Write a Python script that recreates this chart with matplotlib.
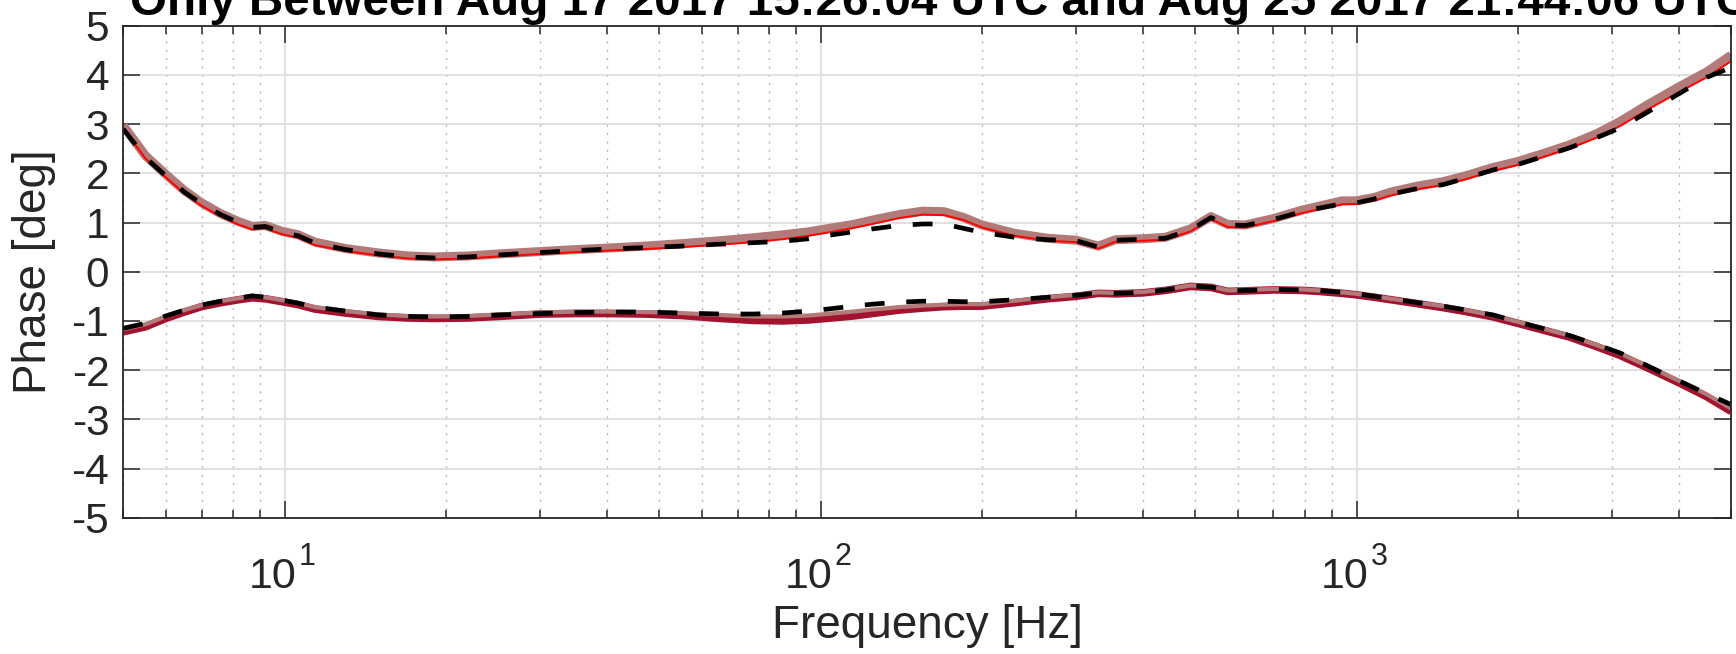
import numpy as np
import matplotlib
matplotlib.use('Agg')
import matplotlib.pyplot as plt
from matplotlib.ticker import LogLocator, FixedLocator, NullFormatter

plt.rcParams['font.family'] = ['Liberation Sans', 'DejaVu Sans']

#------------------------------------------------------------------------------
# Data

freq = [5, 5.5, 6, 6.5, 7, 7.6, 8.2, 8.7, 9.2, 9.9, 10.6, 11.4, 13, 15, 17, 19,
        22, 25, 30, 35, 40, 47, 55, 65, 75, 85, 95, 105, 115, 125, 140, 155,
        170, 185, 200, 230, 265, 300, 330, 355, 400, 440, 490, 535, 575, 620,
        700, 790, 850, 940, 1000, 1080, 1160, 1300, 1450, 1600, 1800, 2000,
        2200, 2500, 2800, 3100, 3500, 4000, 4500, 5000]

# upper branch
upper_meas = [2.97, 2.36, 1.98, 1.65, 1.40, 1.18, 1.02, 0.92, 0.94, 0.82, 0.75,
              0.60, 0.47, 0.38, 0.32, 0.30, 0.32, 0.36, 0.41, 0.45, 0.48, 0.52,
              0.57, 0.63, 0.69, 0.75, 0.81, 0.89, 0.96, 1.05, 1.16, 1.23, 1.22,
              1.10, 0.95, 0.78, 0.68, 0.64, 0.52, 0.65, 0.67, 0.70, 0.87, 1.12,
              0.96, 0.95, 1.08, 1.25, 1.33, 1.44, 1.44, 1.51, 1.62, 1.74, 1.83,
              1.95, 2.12, 2.24, 2.38, 2.58, 2.80, 3.05, 3.40, 3.76, 4.06, 4.40]
upper_model = [2.91, 2.30, 1.92, 1.59, 1.34, 1.12, 0.96, 0.86, 0.88, 0.76, 0.69,
               0.54, 0.42, 0.33, 0.27, 0.25, 0.27, 0.31, 0.36, 0.40, 0.43, 0.46,
               0.50, 0.55, 0.60, 0.66, 0.73, 0.81, 0.89, 0.97, 1.09, 1.16, 1.15,
               1.05, 0.90, 0.73, 0.63, 0.60, 0.47, 0.61, 0.63, 0.65, 0.82, 1.07,
               0.91, 0.90, 1.03, 1.19, 1.27, 1.37, 1.38, 1.45, 1.55, 1.68, 1.76,
               1.88, 2.05, 2.17, 2.31, 2.51, 2.72, 2.96, 3.30, 3.65, 3.95, 4.28]
upper_fit = [2.90, 2.32, 1.95, 1.62, 1.38, 1.16, 1.00, 0.90, 0.92, 0.80, 0.73,
             0.58, 0.45, 0.36, 0.30, 0.28, 0.30, 0.34, 0.39, 0.43, 0.46, 0.49,
             0.52, 0.56, 0.59, 0.62, 0.67, 0.75, 0.81, 0.87, 0.94, 0.97, 0.97,
             0.88, 0.80, 0.70, 0.65, 0.63, 0.50, 0.64, 0.66, 0.68, 0.85, 1.10,
             0.95, 0.94, 1.06, 1.22, 1.29, 1.38, 1.40, 1.48, 1.58, 1.69, 1.77,
             1.90, 2.07, 2.18, 2.32, 2.52, 2.72, 2.92, 3.25, 3.62, 3.95, 4.15]

# lower branch
lower_meas = [-1.22, -1.12, -0.95, -0.82, -0.71, -0.63, -0.57, -0.53, -0.55,
              -0.61, -0.67, -0.76, -0.84, -0.91, -0.94, -0.95, -0.94, -0.91,
              -0.86, -0.85, -0.85, -0.86, -0.89, -0.95, -0.99, -1.00, -0.98,
              -0.94, -0.90, -0.85, -0.78, -0.74, -0.71, -0.70, -0.70, -0.63,
              -0.55, -0.50, -0.44, -0.45, -0.43, -0.38, -0.30, -0.32, -0.40,
              -0.39, -0.37, -0.38, -0.40, -0.44, -0.47, -0.52, -0.57, -0.65,
              -0.73, -0.81, -0.92, -1.05, -1.17, -1.33, -1.52, -1.70, -1.96,
              -2.26, -2.54, -2.84]
lower_model = [-1.17, -1.07, -0.91, -0.78, -0.68, -0.60, -0.54, -0.49, -0.52,
               -0.58, -0.64, -0.72, -0.80, -0.87, -0.90, -0.91, -0.90, -0.87,
               -0.83, -0.81, -0.81, -0.82, -0.84, -0.88, -0.91, -0.91, -0.89,
               -0.85, -0.81, -0.77, -0.72, -0.69, -0.67, -0.66, -0.66, -0.59,
               -0.52, -0.47, -0.42, -0.43, -0.41, -0.36, -0.28, -0.30, -0.38,
               -0.37, -0.35, -0.36, -0.38, -0.42, -0.45, -0.50, -0.55, -0.63,
               -0.70, -0.78, -0.89, -1.02, -1.14, -1.30, -1.49, -1.66, -1.92,
               -2.22, -2.49, -2.78]
lower_fit = [-1.15, -1.05, -0.90, -0.78, -0.68, -0.60, -0.54, -0.49, -0.52,
             -0.58, -0.64, -0.72, -0.80, -0.88, -0.91, -0.92, -0.91, -0.88,
             -0.85, -0.83, -0.82, -0.82, -0.84, -0.86, -0.86, -0.84, -0.80,
             -0.75, -0.70, -0.66, -0.62, -0.60, -0.60, -0.61, -0.61, -0.57,
             -0.52, -0.48, -0.43, -0.44, -0.42, -0.37, -0.29, -0.31, -0.39,
             -0.38, -0.36, -0.37, -0.38, -0.42, -0.45, -0.50, -0.55, -0.63,
             -0.70, -0.78, -0.88, -1.02, -1.14, -1.30, -1.48, -1.65, -1.92,
             -2.22, -2.48, -2.70]

xtick_pos = [10, 100, 1000]
xtick_exp = ['1', '2', '3']

title = 'Only Between Aug 17 2017 15:26:04 UTC and Aug 25 2017 21:44:06 UTC'

rosy = '#b27b79'
crimson = '#a3122f'
axcol = '#262626'

#------------------------------------------------------------------------------

fig = plt.figure(figsize=(17.36, 6.54), dpi=100)
ax = fig.add_axes([0.0710, 0.2084, 0.9262, 0.7523])

ax.semilogx(freq, upper_meas, color=rosy, lw=6.5, solid_capstyle='butt')
ax.semilogx(freq, upper_model, color='#ff0000', lw=1.4)
ax.semilogx(freq, lower_meas, color=crimson, lw=5.5, solid_capstyle='butt')
ax.semilogx(freq, lower_model, color=rosy, lw=3.0, solid_capstyle='butt')
ax.semilogx(freq, upper_fit, color='k', lw=3.4, ls=(0, (4.2, 4.6)))
ax.semilogx(freq, lower_fit, color='k', lw=3.4, ls=(0, (4.2, 4.6)))

ax.set_xlim(5, 5000)
ax.set_ylim(-5, 5)
ax.set_yticks(np.arange(-5, 6, 1))
ax.set_yticklabels([str(v) for v in range(-5, 6)])
ax.xaxis.set_major_locator(FixedLocator(xtick_pos))
ax.xaxis.set_minor_locator(LogLocator(base=10, subs=np.arange(2, 10), numticks=20))
ax.xaxis.set_minor_formatter(NullFormatter())
ax.xaxis.set_major_formatter(NullFormatter())

# MATLAB-style 10^n labels: base and exponent as separate texts
for f, e in zip(xtick_pos, xtick_exp):
    ax.annotate('10', xy=(f, 0), xycoords=('data', 'axes fraction'),
                xytext=(8.6, -50.8), textcoords='offset points',
                ha='right', va='baseline', fontsize=31, color=axcol)
    ax.annotate(e, xy=(f, 0), xycoords=('data', 'axes fraction'),
                xytext=(10.0, -34.0), textcoords='offset points',
                ha='left', va='baseline', fontsize=22, color=axcol)

ax.grid(True, which='major', color='#dcdcdc', lw=1.2, ls='-')
ax.grid(True, which='minor', axis='x', color='#b4b4b4', lw=1.0, ls=(0, (1.5, 4.5)))
ax.set_axisbelow(True)

ax.tick_params(which='both', direction='in', top=True, right=True, colors=axcol,
               labelsize=30.5, width=1.1)
ax.tick_params(which='major', length=12)
ax.tick_params(which='minor', length=6)
ax.tick_params(axis='y', pad=10)
for s in ax.spines.values():
    s.set_color(axcol)
    s.set_linewidth(1.3)

ax.set_xlabel('Frequency [Hz]', fontsize=33, color=axcol)
ax.set_ylabel('Phase [deg]', fontsize=33, color=axcol)
ax.xaxis.set_label_coords(0.5, -0.176)
ax.yaxis.set_label_coords(-0.042, 0.5)
ax.set_title(title, fontsize=34.2, fontweight='bold', pad=8, x=0.508)

fig.savefig('out.png', dpi=100)
